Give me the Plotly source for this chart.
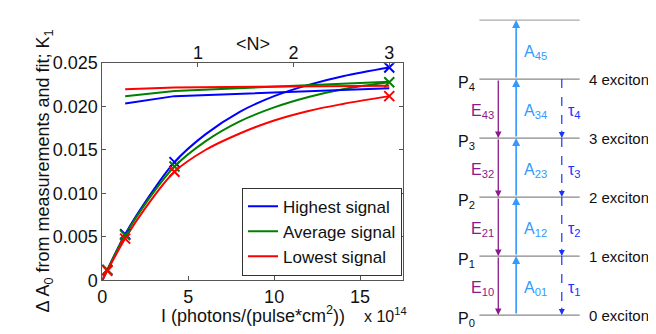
import plotly.graph_objects as go

W, H = 656, 334
FONT = "Liberation Sans, Arial, sans-serif"

# ---------------- data ----------------
series_names = ["Highest signal", "Average signal", "Lowest signal"]
series_colors = ["#0000FF", "#008000", "#FF0000"]

# measurement points (x 10^14 photons/(pulse*cm^2))
meas_I = [0.29, 1.33, 4.2, 16.7]
meas_high = [0.0012, 0.0053, 0.0136, 0.0245]
meas_avg = [0.0012, 0.0052, 0.0131, 0.0228]
meas_low = [0.0011, 0.0048, 0.0125, 0.0212]

# fit curves
fit_I = [0, 0.29, 1.33, 2.5, 4.2, 6, 8, 10, 12, 14, 16.7]
fit_high = [0, 0.0012, 0.0053, 0.0090, 0.0136, 0.0168, 0.0194, 0.0212, 0.0225, 0.0235, 0.0245]
fit_avg = [0, 0.0012, 0.0052, 0.0088, 0.0131, 0.0160, 0.0183, 0.0199, 0.0211, 0.0220, 0.0228]
fit_low = [0, 0.0011, 0.0048, 0.0083, 0.0125, 0.0150, 0.0169, 0.0184, 0.0195, 0.0203, 0.0212]

# K1 values
k1_I = [1.33, 4.2, 16.7]
k1_high = [0.02035, 0.0212, 0.0221]
k1_avg = [0.0212, 0.0218, 0.02285]
k1_low = [0.0220, 0.0222, 0.0224]

y_ticks = [0, 0.005, 0.010, 0.015, 0.020, 0.025]
y_ticktext = ["0", "0.005", "0.010", "0.015", "0.020", "0.025"]
x_ticks = [0, 5, 10, 15]
n_ticks = [1, 2, 3]
I_per_N = 5.567  # I value (x10^14) corresponding to <N> = 1

# level diagram
level_names = ["0 excitons", "1 exciton", "2 excitons", "3 excitons", "4 excitons"]
P_labels = ["P<sub>0</sub>", "P<sub>1</sub>", "P<sub>2</sub>", "P<sub>3</sub>", "P<sub>4</sub>"]
E_labels = ["E<sub>10</sub>", "E<sub>21</sub>", "E<sub>32</sub>", "E<sub>43</sub>"]
A_labels = ["A<sub>01</sub>", "A<sub>12</sub>", "A<sub>23</sub>", "A<sub>34</sub>", "A<sub>45</sub>"]
T_labels = ["τ<sub>1</sub>", "τ<sub>2</sub>", "τ<sub>3</sub>", "τ<sub>4</sub>"]

# ---------------- helpers ----------------
def px(x):
    return x / W

def py(y):
    return (H - y) / H

fig = go.Figure()

meas = [meas_high, meas_avg, meas_low]
fits = [fit_high, fit_avg, fit_low]
k1s = [k1_high, k1_avg, k1_low]

for name, col, f in zip(series_names, series_colors, fits):
    fig.add_trace(go.Scatter(x=fit_I, y=f, mode="lines", line=dict(color=col, width=2, shape="spline"),
                             name=name, showlegend=True))
for name, col, m, k in zip(series_names, series_colors, meas, k1s):
    fig.add_trace(go.Scatter(x=k1_I, y=k, mode="lines", line=dict(color=col, width=2),
                             showlegend=False))
    fig.add_trace(go.Scatter(x=meas_I, y=m, mode="markers",
                             marker=dict(symbol="x-thin", size=10, line=dict(color=col, width=2)),
                             showlegend=False))

# invisible trace for top axis
fig.add_trace(go.Scatter(x=[0], y=[0], xaxis="x3", yaxis="y", mode="markers",
                         marker=dict(opacity=0), showlegend=False, hoverinfo="skip"))
# invisible trace for diagram axes
fig.add_trace(go.Scatter(x=[500], y=[0], xaxis="x4", yaxis="y4", mode="markers",
                         marker=dict(opacity=0), showlegend=False, hoverinfo="skip"))

axcol = "#555555"
tickfont = dict(family=FONT, size=18, color="#111111")
x_max = 17.5

fig.update_layout(
    width=W, height=H,
    margin=dict(l=0, r=0, t=0, b=0),
    paper_bgcolor="white", plot_bgcolor="white",
    font=dict(family=FONT, size=18, color="#111111"),
    xaxis=dict(domain=[px(90), px(393)], range=[0, x_max], tickvals=x_ticks,
               ticks="inside", ticklen=4, tickcolor=axcol, showline=True, linecolor=axcol,
               linewidth=1, mirror=True, showgrid=False, zeroline=False, tickfont=tickfont,
               anchor="y"),
    yaxis=dict(domain=[py(279), py(48)], range=[0, 0.025], tickvals=y_ticks, ticktext=y_ticktext,
               ticks="inside", ticklen=4, tickcolor=axcol, showline=True, linecolor=axcol,
               linewidth=1, mirror="ticks", showgrid=False, zeroline=False, tickfont=tickfont,
               anchor="x"),
    xaxis3=dict(overlaying="x", side="top", anchor="y", range=[0, x_max / I_per_N],
                tickvals=n_ticks, ticks="inside", ticklen=4, tickcolor=axcol, showline=False,
                showgrid=False, zeroline=False, tickfont=tickfont),
    xaxis4=dict(domain=[px(440), 1], range=[440, 656], visible=False, fixedrange=True),
    yaxis4=dict(domain=[0, 1], range=[-18 / 62.75, (H - 18) / 62.75], visible=False,
                fixedrange=True, anchor="x4"),
    legend=dict(x=px(392), y=py(274), xanchor="right", yanchor="bottom",
                bgcolor="white", bordercolor="#333333", borderwidth=1,
                font=dict(family=FONT, size=17, color="#111111"),
                tracegroupgap=0, itemwidth=30),
    showlegend=True,
)

annotations = [
    dict(text="Δ A<sub>0</sub> from measurements and fit; K<sub>1</sub>", x=px(18), y=py(163),
         xref="paper", yref="paper", showarrow=False, textangle=-90,
         font=dict(family=FONT, size=18, color="#111111")),
    dict(text="I (photons/(pulse*cm<sup>2</sup>))", x=px(242), y=py(329), xref="paper", yref="paper",
         yanchor="bottom", borderpad=0,
         showarrow=False, font=dict(family=FONT, size=18, color="#111111")),
    dict(text="x 10<sup>14</sup>", x=px(353), y=py(328), xref="paper", yref="paper", xanchor="left",
         yanchor="bottom", borderpad=0,
         showarrow=False, font=dict(family=FONT, size=16, color="#111111")),
    dict(text="&lt;N&gt;", x=px(242), y=py(15), xref="paper", yref="paper",
         showarrow=False, font=dict(family=FONT, size=18, color="#111111")),
]

shapes = []
# diagram geometry
x_left, x_right = 470, 571
x_E, x_A, x_T = 489, 507, 553
c_purple = "#8B1A8B"
c_A = "#3399FF"
c_T = "#1A33FF"
dfont = 16
lfont = 15

n_levels = len(level_names)
for i in range(n_levels + 1):
    shapes.append(dict(type="line", xref="x4", yref="y4", x0=x_left, x1=x_right, y0=i, y1=i,
                       line=dict(color="#888888" if i < n_levels else "#AAAAAA", width=1.3)))

for i, (pl, ln) in enumerate(zip(P_labels, level_names)):
    annotations.append(dict(text=pl, x=467, y=i, xref="x4", yref="y4", xanchor="right", yanchor="middle",
                            yshift=-4, showarrow=False, borderpad=0,
                            font=dict(family=FONT, size=dfont, color="#111111")))
    annotations.append(dict(text=ln, x=579, y=i, xref="x4", yref="y4", xanchor="left", yanchor="middle",
                            showarrow=False, borderpad=0,
                            font=dict(family=FONT, size=lfont, color="#111111")))

# A arrows (up)
for i, al in enumerate(A_labels):
    annotations.append(dict(x=x_A, y=i + 1, ax=x_A, ay=i, xref="x4", yref="y4", axref="x4", ayref="y4",
                            text="", showarrow=True, arrowhead=2, arrowsize=1, arrowwidth=1.6,
                            arrowcolor=c_A))
    annotations.append(dict(text=al, x=527, y=i + 0.5, xref="x4", yref="y4", showarrow=False,
                            yshift=-3, font=dict(family=FONT, size=dfont, color=c_A)))

# E arrows (down)
for i, el in enumerate(E_labels):
    annotations.append(dict(x=x_E, y=i, ax=x_E, ay=i + 1, xref="x4", yref="y4", axref="x4", ayref="y4",
                            text="", showarrow=True, arrowhead=2, arrowsize=1, arrowwidth=1.3,
                            arrowcolor=c_purple))
    annotations.append(dict(text=el, x=473, y=i + 0.5, xref="x4", yref="y4", showarrow=False,
                            yshift=-3, font=dict(family=FONT, size=dfont, color=c_purple)))

# tau arrows (dashed, down)
for i, tl in enumerate(T_labels):
    shapes.append(dict(type="line", xref="x4", yref="y4", x0=x_T, x1=x_T, y0=i + 1, y1=i + 0.1,
                       line=dict(color=c_T, width=1.2, dash="dash")))
    annotations.append(dict(x=x_T, y=i, ax=x_T, ay=i + 0.15, xref="x4", yref="y4", axref="x4", ayref="y4",
                            text="", showarrow=True, arrowhead=2, arrowsize=1, arrowwidth=1.2,
                            arrowcolor=c_T))
    annotations.append(dict(text=tl, x=566, y=i + 0.5, xref="x4", yref="y4", showarrow=False,
                            yshift=-3, font=dict(family=FONT, size=dfont, color=c_T)))

fig.update_layout(annotations=annotations, shapes=shapes)

fig.write_html("out.html")
